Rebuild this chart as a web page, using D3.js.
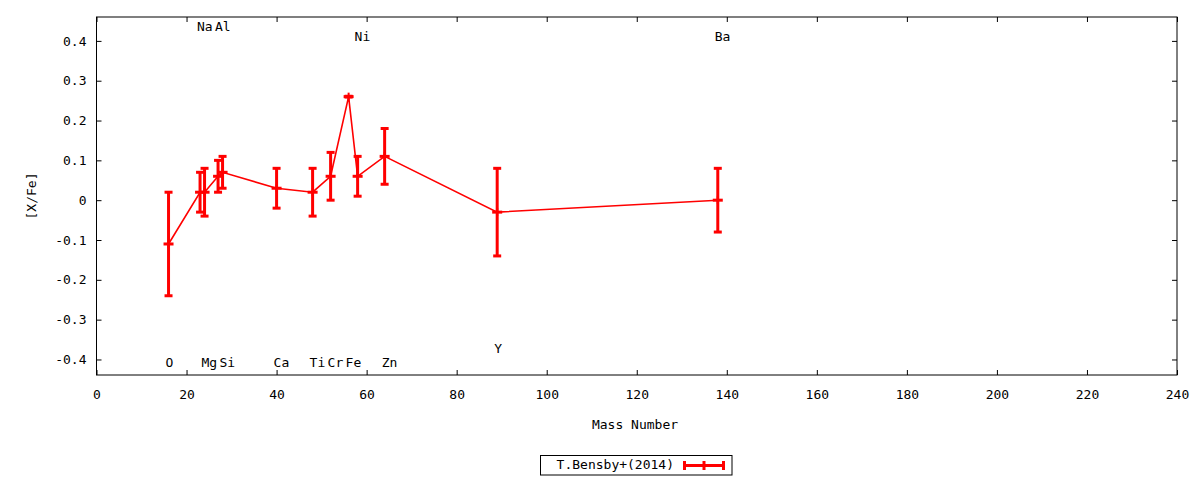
<!DOCTYPE html>
<html>
<head>
<meta charset="utf-8">
<script src="https://cdn.jsdelivr.net/npm/d3@7"></script>
<style>
  body { margin: 0; background: #fff; }
  svg text { font-family: "DejaVu Sans Mono", monospace; font-size: 13px; fill: #000; }
  .axis path { display: none; }
  .axis line { stroke: #000; stroke-width: 1; }
</style>
</head>
<body>
<svg id="chart"></svg>
<script>
// element abundances, sorted by mass number
const elements   = ["O", "Na", "Mg", "Al", "Si", "Ca", "Ti", "Cr", "Fe", "Ni", "Zn", "Y", "Ba"];
const massNumber = [16, 23, 24, 27, 28, 40, 48, 52, 56, 58, 64, 89, 138];
const xfe        = [-0.11, 0.02, 0.02, 0.06, 0.07, 0.03, 0.02, 0.06, 0.26, 0.06, 0.11, -0.03, 0.0];
const xfeErr     = [0.13, 0.05, 0.06, 0.04, 0.04, 0.05, 0.06, 0.06, 0.001, 0.05, 0.07, 0.11, 0.08];
// height at which each element name is written
const labelY     = [-0.409, 0.434, -0.409, 0.434, -0.409, -0.409, -0.409, -0.409, -0.409, 0.408, -0.409, -0.375, 0.408];

const xTicks = [0, 20, 40, 60, 80, 100, 120, 140, 160, 180, 200, 220, 240];
const yTicks = [-0.4, -0.3, -0.2, -0.1, 0, 0.1, 0.2, 0.3, 0.4];
const seriesName = "T.Bensby+(2014)";

const width = 1200, height = 480;
const margin = { top: 17, right: 23, bottom: 105, left: 96.5 };
const w = width - margin.left - margin.right;
const h = height - margin.top - margin.bottom;
const red = "#ff0000";

const data = elements.map((el, i) => ({
  el: el, a: massNumber[i], v: xfe[i], e: xfeErr[i], ly: labelY[i]
}));

const svg = d3.select("#chart").attr("width", width).attr("height", height);
const chart = svg.append("g").attr("transform", `translate(${margin.left},${margin.top})`);

const x = d3.scaleLinear().domain([0, 240]).range([0, w]);
const y = d3.scaleLinear().domain([-0.439, 0.46]).range([h, 0]);

const fmtY = d => d === 0 ? "0" : d.toFixed(1);

// axes with inward ticks, mirrored on top and right
chart.append("g").attr("class", "axis")
    .attr("transform", `translate(0,${h})`)
    .call(d3.axisBottom(x).tickValues(xTicks).tickSize(-5).tickSizeOuter(0).tickPadding(15));
chart.append("g").attr("class", "axis")
    .call(d3.axisTop(x).tickValues(xTicks).tickSize(-5).tickSizeOuter(0).tickFormat(""));
chart.append("g").attr("class", "axis")
    .call(d3.axisLeft(y).tickValues(yTicks).tickSize(-5).tickSizeOuter(0).tickPadding(10).tickFormat(fmtY));
chart.append("g").attr("class", "axis")
    .attr("transform", `translate(${w},0)`)
    .call(d3.axisRight(y).tickValues(yTicks).tickSize(-5).tickSizeOuter(0).tickFormat(""));

chart.append("rect")
    .attr("width", w).attr("height", h)
    .attr("fill", "none").attr("stroke", "#000").attr("stroke-width", 1);

// axis titles
svg.append("text")
    .attr("x", 635).attr("y", 425)
    .attr("text-anchor", "middle").attr("dominant-baseline", "middle")
    .text("Mass Number");
svg.append("text")
    .attr("transform", "translate(32,196) rotate(-90)")
    .attr("text-anchor", "middle").attr("dominant-baseline", "middle")
    .text("[X/Fe]");

// connecting line
const line = d3.line().x(d => x(d.a)).y(d => y(d.v));
chart.append("path")
    .datum(data)
    .attr("d", line)
    .attr("fill", "none").attr("stroke", red).attr("stroke-width", 1.6);

// error bars
const bars = chart.append("g").selectAll("g").data(data).join("g")
    .attr("stroke", red).attr("stroke-width", 3);
bars.append("line")
    .attr("x1", d => x(d.a)).attr("x2", d => x(d.a))
    .attr("y1", d => y(d.v - d.e)).attr("y2", d => y(d.v + d.e));
bars.append("line")
    .attr("x1", d => x(d.a) - 4).attr("x2", d => x(d.a) + 4)
    .attr("y1", d => y(d.v + d.e)).attr("y2", d => y(d.v + d.e));
bars.append("line")
    .attr("x1", d => x(d.a) - 4).attr("x2", d => x(d.a) + 4)
    .attr("y1", d => y(d.v - d.e)).attr("y2", d => y(d.v - d.e));
// point marker "+"
bars.append("line")
    .attr("x1", d => x(d.a) - 5).attr("x2", d => x(d.a) + 5)
    .attr("y1", d => y(d.v)).attr("y2", d => y(d.v));
bars.append("line")
    .attr("x1", d => x(d.a)).attr("x2", d => x(d.a))
    .attr("y1", d => y(d.v) - 4).attr("y2", d => y(d.v) + 4)
    .attr("stroke-width", 2);

// element names
chart.append("g").selectAll("text").data(data).join("text")
    .attr("x", d => x(d.a) - 3)
    .attr("y", d => y(d.ly))
    .attr("dominant-baseline", "middle")
    .text(d => d.el);

// legend
const leg = svg.append("g");
leg.append("rect")
    .attr("x", 540.5).attr("y", 455.5).attr("width", 191.5).attr("height", 19.5)
    .attr("fill", "#fff").attr("stroke", "#000").attr("stroke-width", 1);
leg.append("text")
    .attr("x", 674).attr("y", 465.5)
    .attr("text-anchor", "end").attr("dominant-baseline", "middle")
    .text(seriesName);
const lg = leg.append("g").attr("stroke", red);
lg.append("line").attr("x1", 683).attr("x2", 725).attr("y1", 465.5).attr("y2", 465.5).attr("stroke-width", 3);
[684.5, 704, 723.5].forEach(px => {
  lg.append("line").attr("x1", px).attr("x2", px).attr("y1", 461).attr("y2", 470).attr("stroke-width", 3);
});
</script>
</body>
</html>
